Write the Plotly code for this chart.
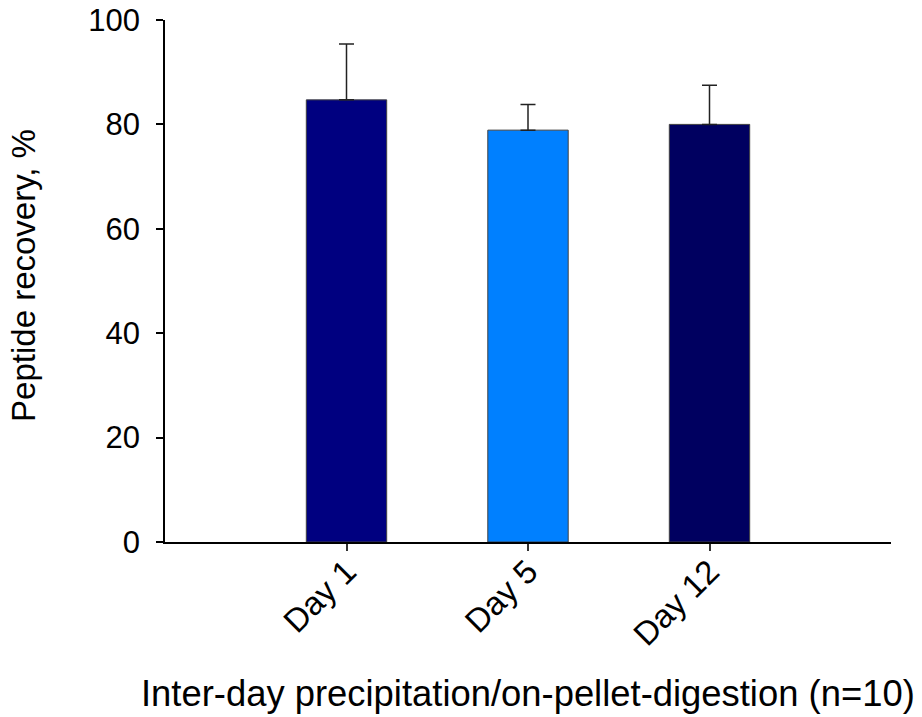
import plotly.graph_objects as go

categories = ["Day 1", "Day 5", "Day 12"]
positions = [1, 2, 3]
recovery = [84.7, 78.9, 80.0]
error_up = [10.7, 4.9, 7.5]
bar_colors = ["#000080", "#0080FF", "#000060"]
y_ticks = [0, 20, 40, 60, 80, 100]

fig = go.Figure()
fig.add_trace(go.Bar(
    x=positions, y=recovery, width=0.443,
    marker=dict(color=bar_colors, line=dict(color="#404040", width=1)),
    error_y=dict(type="data", array=error_up, symmetric=False,
                 arrayminus=[0, 0, 0], color="#222222", thickness=1.5, width=7.5),
    showlegend=False,
))

font = "Liberation Sans, Arial, sans-serif"
fig.update_layout(
    width=922, height=717,
    margin=dict(l=165, r=31, t=20, b=175),
    plot_bgcolor="white", paper_bgcolor="white",
    font=dict(family=font, color="black"),
    xaxis=dict(range=[0, 4], tickvals=positions, ticktext=categories,
               tickangle=-45, ticks="outside", ticklen=7, tickwidth=1.5,
               tickcolor="#333333", showline=True, linecolor="black", linewidth=2,
               showgrid=False, zeroline=False, tickfont=dict(size=33, family=font),
               ticklabelstandoff=-12, ticklabelshift=0, automargin=False),
    yaxis=dict(range=[0, 100], tickvals=y_ticks, ticks="outside", ticklen=7,
               tickwidth=1.5, tickcolor="black", showline=True, linecolor="black",
               linewidth=1.5, showgrid=False, zeroline=False,
               tickfont=dict(size=31, family=font), ticklabelstandoff=10,
               automargin=False),
    annotations=[
        dict(text="Inter-day precipitation/on-pellet-digestion (n=10)",
             xref="paper", yref="paper", x=0.5, y=-0.29, xanchor="center",
             yanchor="middle", showarrow=False, font=dict(size=36.4, family=font)),
        dict(text="Peptide recovery, %", textangle=-90,
             xref="paper", yref="paper", x=-0.194, y=0.51, xanchor="center",
             yanchor="middle", showarrow=False, font=dict(size=33, family=font)),
    ],
)

fig.write_html("out.html")
